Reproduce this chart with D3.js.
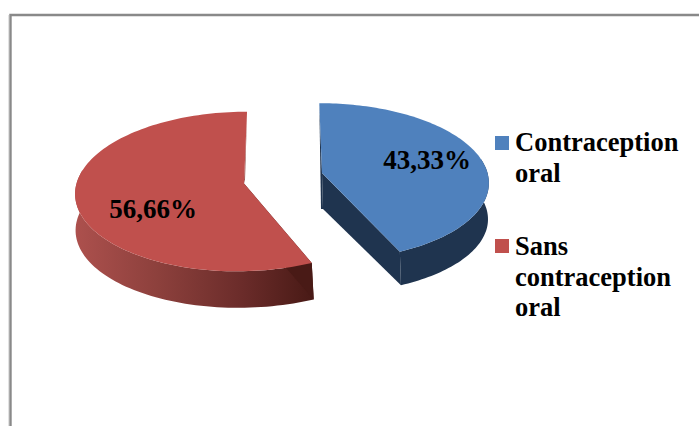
<!DOCTYPE html>
<html><head><meta charset="utf-8">
<script src="https://cdn.jsdelivr.net/npm/d3@7"></script>
<style>html,body{margin:0;padding:0;background:#fff}svg{display:block}</style></head>
<body><svg id="c" width="699" height="426"></svg>
<script>
const categories = ["Contraception oral", "Sans contraception oral"];
const values = [43.33, 56.66];
const legendLines = [["Contraception", "oral"], ["Sans", "contraception", "oral"]];
const colors = ["#4F81BD", "#C0504D"];

const W = 699, H = 426, FONT = "'Liberation Serif','Times New Roman',serif";
const svg = d3.select("#c");
const defs = svg.append("defs");
const g = defs.append("linearGradient").attr("id", "redWall").attr("gradientUnits", "userSpaceOnUse")
  .attr("x1", 77).attr("x2", 312).attr("y1", 0).attr("y2", 0);
[[0, "#AC504D"], [0.35, "#8C403C"], [0.7, "#6B2C2A"], [1, "#491A16"]].forEach(s =>
  g.append("stop").attr("offset", s[0]).attr("stop-color", s[1]));

// frame
svg.append("rect").attr("width", W).attr("height", H).attr("fill", "#fff");
svg.append("path").attr("d", `M8.5,${H}V15`).attr("stroke", "#e2e2e2").attr("fill", "none");
svg.append("path").attr("d", `M10.5,${H}V15H${W}`).attr("stroke", "#898989").attr("stroke-width", 2.4).attr("fill", "none");

// layout of each exploded slice: top face and bottom face of the perspective disc
const geom = [
  { top: { cx: 322, cy: 173, rx: 165.5, ry: 77.5, p: 0.11, sk: -3 }, apexDx: 0,
    bot: { cx: 323, cy: 209, rx: 163.5, ry: 75, p: 0.11, sk: -4 }, wall: "#1F344F", cut: "#1F344F", sliver: "#1F344F" },
  { top: { cx: 242.5, cy: 183.5, rx: 166, ry: 79, p: 0.10, sk: 5 }, apexDx: 1.5,
    bot: { cx: 244, cy: 220, rx: 167, ry: 79, p: 0.10, sk: 5 }, wall: "url(#redWall)", cut: "#491A16", sliver: "#8C403C" }
];

function project(f, t) {
  const X = Math.sin(t), Y = Math.cos(t), k = 1 / (1 + f.p * Y);
  return [f.cx + (f.rx * X + f.sk * Y) * k, f.cy - f.ry * Y * k];
}
const pie = d3.pie().sort(null)(values);
const line = d3.line();
const samples = (a, b) => d3.range(0, 121).map(i => a + (b - a) * i / 120);

pie.forEach((d, i) => {
  const G = geom[i], ts = samples(d.startAngle, d.endAngle);
  const frontTs = ts.filter(t => Math.cos(t) < 0.2);
  const topArc = ts.map(t => project(G.top, t));
  const frontTop = frontTs.map(t => project(G.top, t));
  const frontBot = frontTs.map(t => project(G.bot, t));
  const layer = svg.append("g");
  // rim wall, front-facing part only
  layer.append("path").attr("d", line(frontTop.concat(frontBot.slice().reverse())) + "Z").attr("fill", G.wall);
  // radial cut walls
  const tc = [G.top.cx + G.apexDx, G.top.cy], bc = [G.bot.cx, G.bot.cy];
  const n = ts.length - 1;
  if (i === 0) {
    const endBot = project(G.bot, ts[n]);
    layer.append("path").attr("d", line([tc, topArc[n], endBot, bc]) + "Z").attr("fill", G.cut);
    layer.append("path").attr("d", line([topArc[0], tc, bc, [tc[0] - 1, bc[1]]]) + "Z").attr("fill", G.sliver);
  } else {
    const startBot = project(G.bot, ts[0]);
    layer.append("path").attr("d", line([tc, topArc[0], startBot, bc]) + "Z").attr("fill", G.cut);
    layer.append("path").attr("d", line([topArc[n], tc, [tc[0] + 1, tc[1] - 4]]) + "Z").attr("fill", G.sliver);
  }
  // top face
  layer.append("path").attr("d", line([tc].concat(topArc)) + "Z").attr("fill", colors[i]);
});

// value labels
const fmt = v => v.toFixed(2).replace(".", ",") + "%";
const labelPos = [[427, 169], [153, 218]];
values.forEach((v, i) => {
  svg.append("text").attr("x", labelPos[i][0]).attr("y", labelPos[i][1]).attr("text-anchor", "middle")
    .attr("font-family", FONT).attr("font-weight", "bold").attr("font-size", 27).attr("fill", "#000").text(fmt(v));
});

// legend
const legendBase = [[151, 182], [255, 286, 316]];
const swatchY = [136, 239];
categories.forEach((c, i) => {
  const lg = svg.append("g").attr("class", "legend").attr("aria-label", c);
  lg.append("rect").attr("x", 495).attr("y", swatchY[i]).attr("width", 14).attr("height", 14).attr("fill", colors[i]);
  legendLines[i].forEach((t, j) => {
    lg.append("text").attr("x", 515).attr("y", legendBase[i][j]).attr("font-family", FONT)
      .attr("font-weight", "bold").attr("font-size", 26.5).attr("fill", "#000").text(t);
  });
});
</script></body></html>
